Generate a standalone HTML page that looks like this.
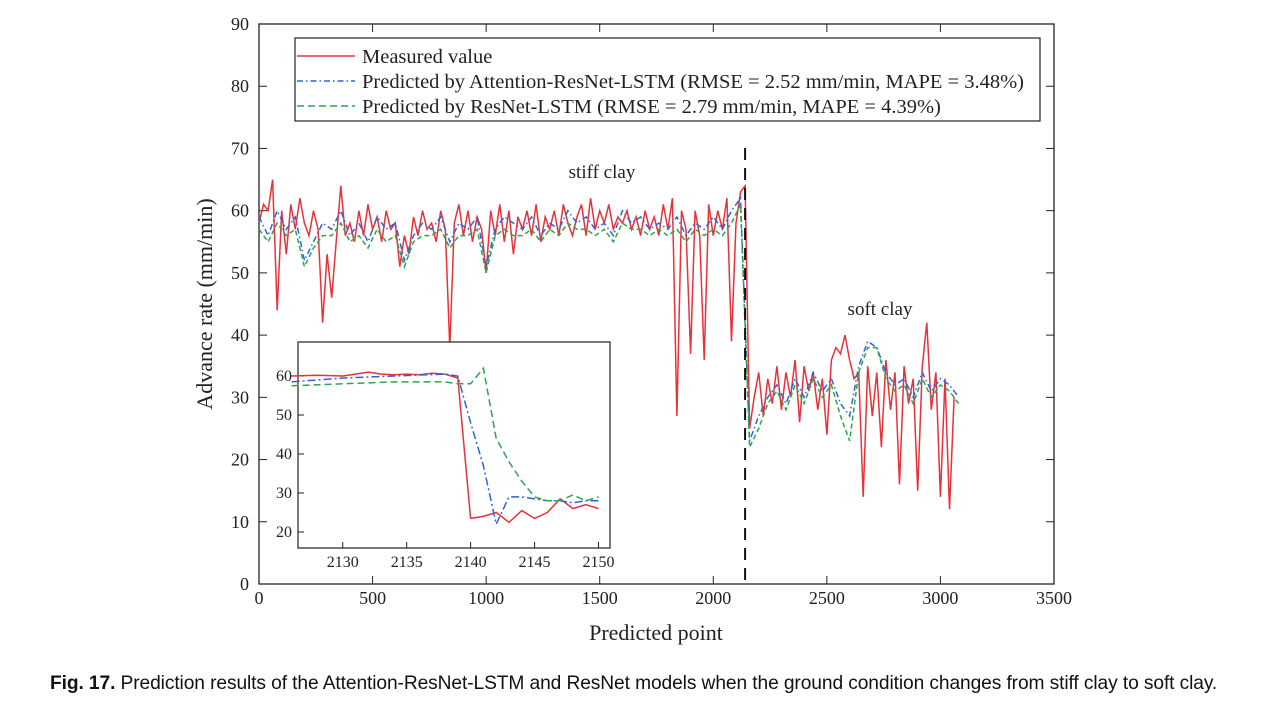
<!DOCTYPE html>
<html><head><meta charset="utf-8"><style>
body{margin:0;background:#fff;width:1272px;height:722px;overflow:hidden}
svg{position:absolute;left:0;top:0}
.cap{position:absolute;left:50px;top:673px;font:19.2px "Liberation Sans",sans-serif;color:#111;white-space:nowrap;letter-spacing:-0.1px}
</style></head><body>
<svg id="chart" width="1272" height="722"></svg>
<div class="cap"><b>Fig. 17.</b> Prediction results of the Attention-ResNet-LSTM and ResNet models when the ground condition changes from stiff clay to soft clay.</div>
<script>
const measuredStep = 20;
const measured = [58,61,60,65,44,60,53,61,57,62,
58,56,60,57,42,53,46,55,64,56,
58,55,60,56,61,57,59,55,60,57,
58,51,56,53,59,56,60,57,58,55,
60,57,38,58,61,56,60,55,59,57,
50,60,56,61,55,60,53,59,57,60,
56,61,55,59,57,60,56,61,58,56,
59,61,56,62,57,60,58,61,57,59,
58,60,57,59,56,60,57,59,56,61,
57,62,27,60,57,37,60,56,36,61,
56,60,57,62,39,58,63,64,
25,30,34,27,33,29,35,28,34,30,36,26,35,31,34,28,33,24,36,38,37,40,36,33,34,14,35,27,34,22,36,28,34,16,35,29,33,15,35,42,28,34,14,33,12,30];
const predStep = 40;
const attention = [59,56,60,57,59,52,55,58,57,60,56,58,55,59,57,58,52,56,58,57,59,55,58,57,59,51,57,59,58,57,59,56,58,57,60,58,59,57,58,56,60,58,59,57,58,57,59,56,58,57,59,57,60,62,
23,27,30,32,29,33,30,34,31,33,29,27,35,39,38,34,32,33,30,34,31,33,32,30];
const resnet = [57,55,58,56,57,51,54,56,56,58,55,56,54,57,55,56,51,55,56,56,57,54,56,56,57,50,56,57,56,56,57,55,57,56,58,57,57,56,57,55,58,57,57,56,57,56,57,55,57,56,57,56,58,61,
22,25,29,31,28,32,29,33,30,32,27,23,34,38,38,33,31,32,29,33,30,32,31,29];
const xTicks = [0,500,1000,1500,2000,2500,3000,3500];
const yTicks = [0,10,20,30,40,50,60,70,80,90];
const insetX = [2126,2128,2130,2131,2132,2133,2134,2135,2136,2137,2138,2139,2140,2141,2142,2143,2144,2145,2146,2147,2148,2149,2150];
const insetMeasured = [60,60.2,60,60.5,61,60.5,60.3,60.5,60.3,60.7,60.5,59.5,23.5,24,25,22.5,25.5,23.5,25,28.5,26,27,26];
const insetAttX = [2126,2130,2134,2138,2139,2140,2141,2142,2143,2144,2145,2146,2147,2148,2149,2150];
const insetAtt = [58.5,59.5,60,60.5,60,48,37,22,29,29,28.5,28,28,27.5,28,28];
const insetRes = [57.5,58,58.5,58.5,58,58,62,44,38,33,29,28,28,29.5,28,29];
const insetXTicks = [2130,2135,2140,2145,2150];
const insetYTicks = [20,30,40,50,60];

const NS="http://www.w3.org/2000/svg", svg=document.getElementById('chart');
function el(t,a,p){const e=document.createElementNS(NS,t);for(const k in a)e.setAttribute(k,a[k]);(p||svg).appendChild(e);return e;}
const X=v=>259+(v/3500)*795, Y=v=>584-(v/90)*560;
const serif='"Liberation Serif",serif';
let f=el('rect',{x:259,y:24,width:795,height:560,fill:'none',stroke:'#222','stroke-width':1.3});


xTicks.forEach(t=>{
  el('line',{x1:X(t),x2:X(t),y1:584,y2:576,stroke:'#222'});el('line',{x1:X(t),x2:X(t),y1:24,y2:32,stroke:'#222'});
  const tx=el('text',{x:X(t),y:604,'text-anchor':'middle','font-family':serif,'font-size':18,fill:'#222'});tx.textContent=t;
  
  
});
yTicks.forEach(t=>{
  el('line',{x1:259,x2:267,y1:Y(t),y2:Y(t),stroke:'#222'});el('line',{x1:1054,x2:1046,y1:Y(t),y2:Y(t),stroke:'#222'});
  const tx=el('text',{x:249,y:Y(t)+6,'text-anchor':'end','font-family':serif,'font-size':18,fill:'#222'});tx.textContent=t;
  
  
});
let xt=el('text',{x:656,y:640,'text-anchor':'middle','font-family':serif,'font-size':22,fill:'#222'});xt.textContent='Predicted point';


let yt=el('text',{x:0,y:0,transform:'translate(212,304) rotate(-90)','text-anchor':'middle','font-family':serif,'font-size':22,fill:'#222'});yt.textContent='Advance rate (mm/min)';


function line(xs,ys,fx,fy,col,dash,name,w){
  const d=ys.map((v,i)=>(i?'L':'M')+fx(xs[i]).toFixed(1)+','+fy(v).toFixed(1)).join('');
  const p=el('path',{d,fill:'none',stroke:col,'stroke-width':w||1.3,'stroke-dasharray':dash||'none'});
  
  
}
line(measured.map((v,i)=>i*measuredStep),measured,X,Y,'#e8323a',null,'measured-line',1.5);
line(attention.map((v,i)=>i*predStep),attention,X,Y,'#2f63d8','6 3 1.5 3','attention-resnet-lstm-line',1.5);
line(resnet.map((v,i)=>i*predStep),resnet,X,Y,'#2ea44f','5 3','resnet-lstm-line',1.5);
let vl=el('line',{x1:X(2140),x2:X(2140),y1:148,y2:584,stroke:'#111','stroke-width':2,'stroke-dasharray':'12 8'});


let a1=el('text',{x:602,y:178,'text-anchor':'middle','font-family':serif,'font-size':19,fill:'#222'});a1.textContent='stiff clay';


let a2=el('text',{x:880,y:315,'text-anchor':'middle','font-family':serif,'font-size':19,fill:'#222'});a2.textContent='soft clay';


const lg=el('g',{});


el('rect',{x:295,y:38,width:745,height:83,fill:'#fff',stroke:'#222','stroke-width':1.2},lg);
[['Measured value','#e8323a','none'],['Predicted by Attention-ResNet-LSTM (RMSE = 2.52 mm/min, MAPE = 3.48%)','#2f63d8','6 3 1.5 3'],['Predicted by ResNet-LSTM (RMSE = 2.79 mm/min, MAPE = 4.39%)','#2ea44f','7 4']].forEach((r,i)=>{
  const y=56+i*25;
  el('line',{x1:297,x2:355,y1:y,y2:y,stroke:r[1],'stroke-width':1.5,'stroke-dasharray':r[2]},lg);
  const t=el('text',{x:362,y:y+7,'font-family':serif,'font-size':20.5,fill:'#222'},lg);t.textContent=r[0];
  
  
});
const IX=v=>298+(v-2126.5)/24.4*312, IY=v=>532-(v-20)*3.9;
const ig=el('g',{});


el('rect',{x:298,y:342,width:312,height:206,fill:'#fff',stroke:'#222','stroke-width':1.2},ig);
insetXTicks.forEach(t=>{el('line',{x1:IX(t),x2:IX(t),y1:548,y2:542,stroke:'#222'},ig);
  const tx=el('text',{x:IX(t),y:567,'text-anchor':'middle','font-family':serif,'font-size':16,fill:'#222'},ig);tx.textContent=t;
  
  });
insetYTicks.forEach(t=>{el('line',{x1:298,x2:304,y1:IY(t),y2:IY(t),stroke:'#222'},ig);
  const tx=el('text',{x:292,y:IY(t)+5,'text-anchor':'end','font-family':serif,'font-size':16,fill:'#222'},ig);tx.textContent=t;
  
  });
line(insetX,insetMeasured,IX,IY,'#e8323a',null,'inset-measured-line',1.5);
line(insetAttX,insetAtt,IX,IY,'#2f63d8','8 3 2 3','inset-attention-line',1.5);
line(insetAttX,insetRes,IX,IY,'#2ea44f','7 4','inset-resnet-line',1.5);
</script>
</body></html>
